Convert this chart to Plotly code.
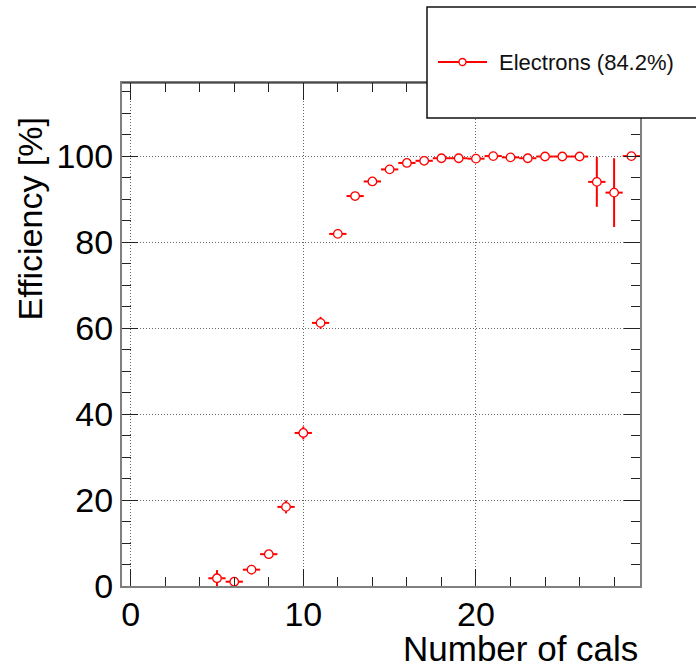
import plotly.graph_objects as go

# Data
n_cals = [5, 6, 7, 8, 9, 10, 11, 12, 13, 14, 15, 16, 17, 18, 19, 20, 21, 22, 23, 24, 25, 26, 27, 28, 29]
efficiency = [1.8, 1.0, 3.8, 7.4, 18.4, 35.6, 61.2, 81.9, 90.7, 94.1, 96.9, 98.4, 98.9, 99.5, 99.5,
              99.4, 100.0, 99.7, 99.5, 99.9, 99.9, 99.9, 94.0, 91.5, 100.0]
eff_err = [1.9, 1.0, 1.1, 1.0, 1.5, 1.5, 1.4, 0.9, 0.7, 0.6, 0.5, 0.4, 0.3, 0.3, 0.3,
           0.3, 0.1, 0.2, 0.3, 0.1, 0.1, 0.1, 5.8, 8.0, 0.0]
bin_half_width = [0.5] * len(n_cals)
legend_label = "Electrons (84.2%)"

W, H = 696, 669
L, R, T, B = 122, 56, 83, 83
pw, ph = W - L - R, H - T - B

def px(xpix):
    return (xpix - L) / pw

def py(ypix):
    return (H - B - ypix) / ph

RED = "#ff0000"
FONT = "Liberation Sans, Arial, sans-serif"

fig = go.Figure()
fig.add_trace(go.Scatter(
    x=n_cals, y=efficiency, mode="markers", name=legend_label,
    marker=dict(symbol="circle", size=8.5, color="white", line=dict(color=RED, width=1.3)),
    error_x=dict(type="data", array=bin_half_width, color=RED, thickness=2, width=0),
    error_y=dict(type="data", array=eff_err, color=RED, thickness=2, width=0),
    showlegend=False,
))

axis_common = dict(
    showline=True, linecolor="#7f7f7f", linewidth=2, mirror="allticks",
    ticks="inside", tickcolor="#222", tickwidth=1.2,
    showgrid=True, gridcolor="#666", griddash="1px,2px", gridwidth=1,
    zeroline=False,
    tickfont=dict(family=FONT, size=34, color="#000"),
)

fig.update_layout(
    width=W, height=H,
    margin=dict(l=L, r=R, t=T, b=B),
    paper_bgcolor="white", plot_bgcolor="white",
    xaxis=dict(range=[-0.5, 29.5], tick0=0, dtick=10, ticklen=17, ticklabelstandoff=-3,
               minor=dict(dtick=2, tick0=0, ticks="inside", ticklen=9, tickcolor="#222", showgrid=False),
               **axis_common),
    yaxis=dict(range=[0, 117], tick0=0, dtick=20, ticklen=16,
               minor=dict(dtick=5, tick0=0, ticks="inside", ticklen=9, tickcolor="#222", showgrid=False),
               **axis_common),
    showlegend=False,
)

# Top frame line is thin black in the reference
fig.add_shape(type="line", xref="paper", yref="paper", x0=0, x1=1, y0=1, y1=1,
              line=dict(color="#111", width=1.2), layer="above")

# Axis titles
fig.add_annotation(text="Number of cals", xref="paper", yref="paper",
                   x=1.0, y=py(648), xanchor="right", yanchor="middle", showarrow=False,
                   font=dict(family=FONT, size=35, color="#000"))
fig.add_annotation(text="Efficiency [%]", xref="paper", yref="paper",
                   x=px(30), y=py(116), xanchor="center", yanchor="top", showarrow=False,
                   textangle=-90, font=dict(family=FONT, size=34, color="#000"))

# Legend box (manual)
fig.add_shape(type="rect", xref="paper", yref="paper",
              x0=px(427), x1=px(720), y0=py(118), y1=py(7),
              line=dict(color="#111", width=1.5), fillcolor="white", layer="above")
fig.add_shape(type="line", xref="paper", yref="paper",
              x0=px(438), x1=px(487), y0=py(62), y1=py(62),
              line=dict(color=RED, width=2), layer="above")
fig.add_shape(type="circle", xref="paper", yref="paper", xsizemode="pixel", ysizemode="pixel",
              xanchor=px(462.5), yanchor=py(62), x0=-3.5, x1=3.5, y0=-3.5, y1=3.5,
              line=dict(color=RED, width=1.3), fillcolor="white", layer="above")
fig.add_annotation(text=legend_label, xref="paper", yref="paper",
                   x=px(497), y=py(62), xanchor="left", yanchor="middle", showarrow=False,
                   font=dict(family=FONT, size=22, color="#111"))

fig.write_html("out.html")
